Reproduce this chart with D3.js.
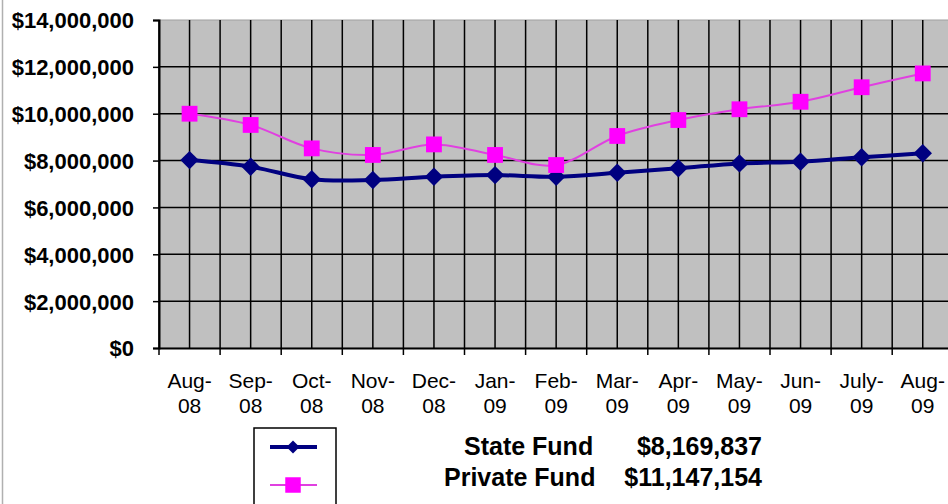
<!DOCTYPE html>
<html>
<head>
<meta charset="utf-8">
<script src="https://cdn.jsdelivr.net/npm/d3@7"></script>
<style>
  body { margin: 0; background: #fff; }
  svg { display: block; font-family: "Liberation Sans", Arial, sans-serif; }
</style>
</head>
<body>
<div id="chart"></div>
<script>
// month categories (label is split at the dash onto two lines)
var months = ["Aug-08", "Sep-08", "Oct-08", "Nov-08", "Dec-08", "Jan-09", "Feb-09",
              "Mar-09", "Apr-09", "May-09", "Jun-09", "July-09", "Aug-09"];

// fund balances in dollars
var stateFund = [8020000, 7740000, 7200000, 7170000, 7310000, 7380000, 7310000,
                 7480000, 7670000, 7880000, 7950000, 8140000, 8310000];
var privateFund = [10000000, 9520000, 8520000, 8240000, 8690000, 8240000, 7810000,
                   9050000, 9730000, 10190000, 10510000, 11130000, 11720000];

var yTicks = [0, 2000000, 4000000, 6000000, 8000000, 10000000, 12000000, 14000000];

var totals = [
  {label: "State Fund", value: "$8,169,837"},
  {label: "Private Fund", value: "$11,147,154"}
];

// canvas
var outerWidth = 948, outerHeight = 504;
var plot = {left: 159, top: 20, bottom: 348, step: 61.1};

var svg = d3.select("#chart").append("svg")
    .attr("width", outerWidth)
    .attr("height", outerHeight);

// chart area border on the left edge
svg.append("line")
    .attr("x1", 2.5).attr("x2", 2.5)
    .attr("y1", 0).attr("y2", outerHeight)
    .attr("stroke", "#b0b0b0").attr("stroke-width", 1.5);

// scales
var x = d3.scaleBand()
    .domain(months)
    .range([plot.left, plot.left + plot.step * months.length]);

var y = d3.scaleLinear()
    .domain([0, 14000000])
    .range([plot.bottom, plot.top]);

var bw = x.bandwidth();

// plot background
svg.append("rect")
    .attr("x", x.range()[0])
    .attr("y", y(14000000))
    .attr("width", x.range()[1] - x.range()[0])
    .attr("height", y(0) - y(14000000))
    .attr("fill", "#c0c0c0")
    .attr("stroke", "#a0a0a0")
    .attr("stroke-width", 1);

// vertical grid: on band edges and band centres
var vLines = [];
months.forEach(function(m) { vLines.push(x(m)); vLines.push(x(m) + bw / 2); });
vLines.push(x.range()[1]);

svg.append("g").selectAll("line")
    .data(vLines)
    .join("line")
    .attr("x1", function(d) { return d; })
    .attr("x2", function(d) { return d; })
    .attr("y1", y(14000000))
    .attr("y2", y(0))
    .attr("stroke", "#000")
    .attr("stroke-width", 1.5);

// horizontal grid
svg.append("g").selectAll("line")
    .data(yTicks.filter(function(d) { return d > 0 && d < 14000000; }))
    .join("line")
    .attr("x1", x.range()[0])
    .attr("x2", x.range()[1])
    .attr("y1", function(d) { return y(d); })
    .attr("y2", function(d) { return y(d); })
    .attr("stroke", "#000")
    .attr("stroke-width", 1.5);

// y axis
var yAxis = svg.append("g")
    .attr("transform", "translate(" + plot.left + ",0)")
    .call(d3.axisLeft(y)
      .tickValues(yTicks)
      .tickSize(6)
      .tickPadding(19)
      .tickFormat(function(d) { return "$" + d3.format(",")(d); }));
yAxis.select(".domain").attr("stroke", "#000").attr("stroke-width", 2);
yAxis.selectAll(".tick line").attr("stroke", "#000").attr("stroke-width", 1.5);
yAxis.selectAll("text")
    .attr("fill", "#000")
    .style("font-size", "22px")
    .style("font-weight", "bold")
    .attr("dy", "0.36em");

// x axis: tick marks between categories, labels at centres
var xAxis = svg.append("g")
    .attr("transform", "translate(0," + plot.bottom + ")")
    .call(d3.axisBottom(x).tickSize(0).tickPadding(0));
xAxis.select(".domain").attr("stroke", "#000").attr("stroke-width", 2);
xAxis.selectAll("text").remove();

xAxis.selectAll(".tick").append("text")
    .attr("fill", "#000")
    .attr("text-anchor", "middle")
    .style("font-size", "21px")
    .each(function(d) {
      var parts = d.split("-");
      var t = d3.select(this);
      t.append("tspan").attr("x", 0).attr("y", 40).text(parts[0] + "-");
      t.append("tspan").attr("x", 0).attr("y", 65).text(parts[1]);
    });

xAxis.append("g").selectAll("line")
    .data(months.map(function(m) { return x(m); }).concat([x.range()[1]]))
    .join("line")
    .attr("x1", function(d) { return d; })
    .attr("x2", function(d) { return d; })
    .attr("y1", 0)
    .attr("y2", 7)
    .attr("stroke", "#000")
    .attr("stroke-width", 1.5);

// lines
var cx = function(i) { return x(months[i]) + bw / 2; };

var line = d3.line()
    .curve(d3.curveCardinal.tension(0))
    .x(function(d, i) { return cx(i); })
    .y(function(d) { return y(d); });

svg.append("path")
    .datum(privateFund)
    .attr("d", line)
    .attr("fill", "none")
    .attr("stroke", "#e040e0")
    .attr("stroke-width", 2);

svg.append("path")
    .datum(stateFund)
    .attr("d", line)
    .attr("fill", "none")
    .attr("stroke", "#000080")
    .attr("stroke-width", 4);

// markers
var diamond = d3.symbol().type(d3.symbolSquare).size(170);
var square = d3.symbol().type(d3.symbolSquare).size(250);

svg.append("g").selectAll("path")
    .data(stateFund)
    .join("path")
    .attr("d", diamond)
    .attr("transform", function(d, i) { return "translate(" + cx(i) + "," + y(d) + ") rotate(45)"; })
    .attr("fill", "#000080");

svg.append("g").selectAll("path")
    .data(privateFund)
    .join("path")
    .attr("d", square)
    .attr("transform", function(d, i) { return "translate(" + cx(i) + "," + y(d) + ")"; })
    .attr("fill", "#ff00ff");

// legend box
var legend = svg.append("g");
legend.append("rect")
    .attr("x", 254).attr("y", 428)
    .attr("width", 82).attr("height", 90)
    .attr("fill", "#fff")
    .attr("stroke", "#000")
    .attr("stroke-width", 1.5);

legend.append("line")
    .attr("x1", 270).attr("x2", 317)
    .attr("y1", 447).attr("y2", 447)
    .attr("stroke", "#000080").attr("stroke-width", 4);
legend.append("path")
    .attr("d", d3.symbol().type(d3.symbolSquare).size(85))
    .attr("transform", "translate(293,447) rotate(45)")
    .attr("fill", "#000080");

legend.append("line")
    .attr("x1", 270).attr("x2", 317)
    .attr("y1", 485).attr("y2", 485)
    .attr("stroke", "#e040e0").attr("stroke-width", 2);
legend.append("path")
    .attr("d", d3.symbol().type(d3.symbolSquare).size(240))
    .attr("transform", "translate(293,485)")
    .attr("fill", "#ff00ff");

// fund totals
var totalRows = svg.append("g").selectAll("g")
    .data(totals)
    .join("g")
    .attr("transform", function(d, i) { return "translate(0," + (455 + i * 31) + ")"; });

totalRows.append("text")
    .attr("x", function(d, i) { return i === 0 ? 464 : 444; })
    .style("font-size", "25px")
    .style("font-weight", "bold")
    .attr("fill", "#000")
    .text(function(d) { return d.label; });

totalRows.append("text")
    .attr("x", 762)
    .attr("text-anchor", "end")
    .style("font-size", "25px")
    .style("font-weight", "bold")
    .attr("fill", "#000")
    .text(function(d) { return d.value; });
</script>
</body>
</html>
